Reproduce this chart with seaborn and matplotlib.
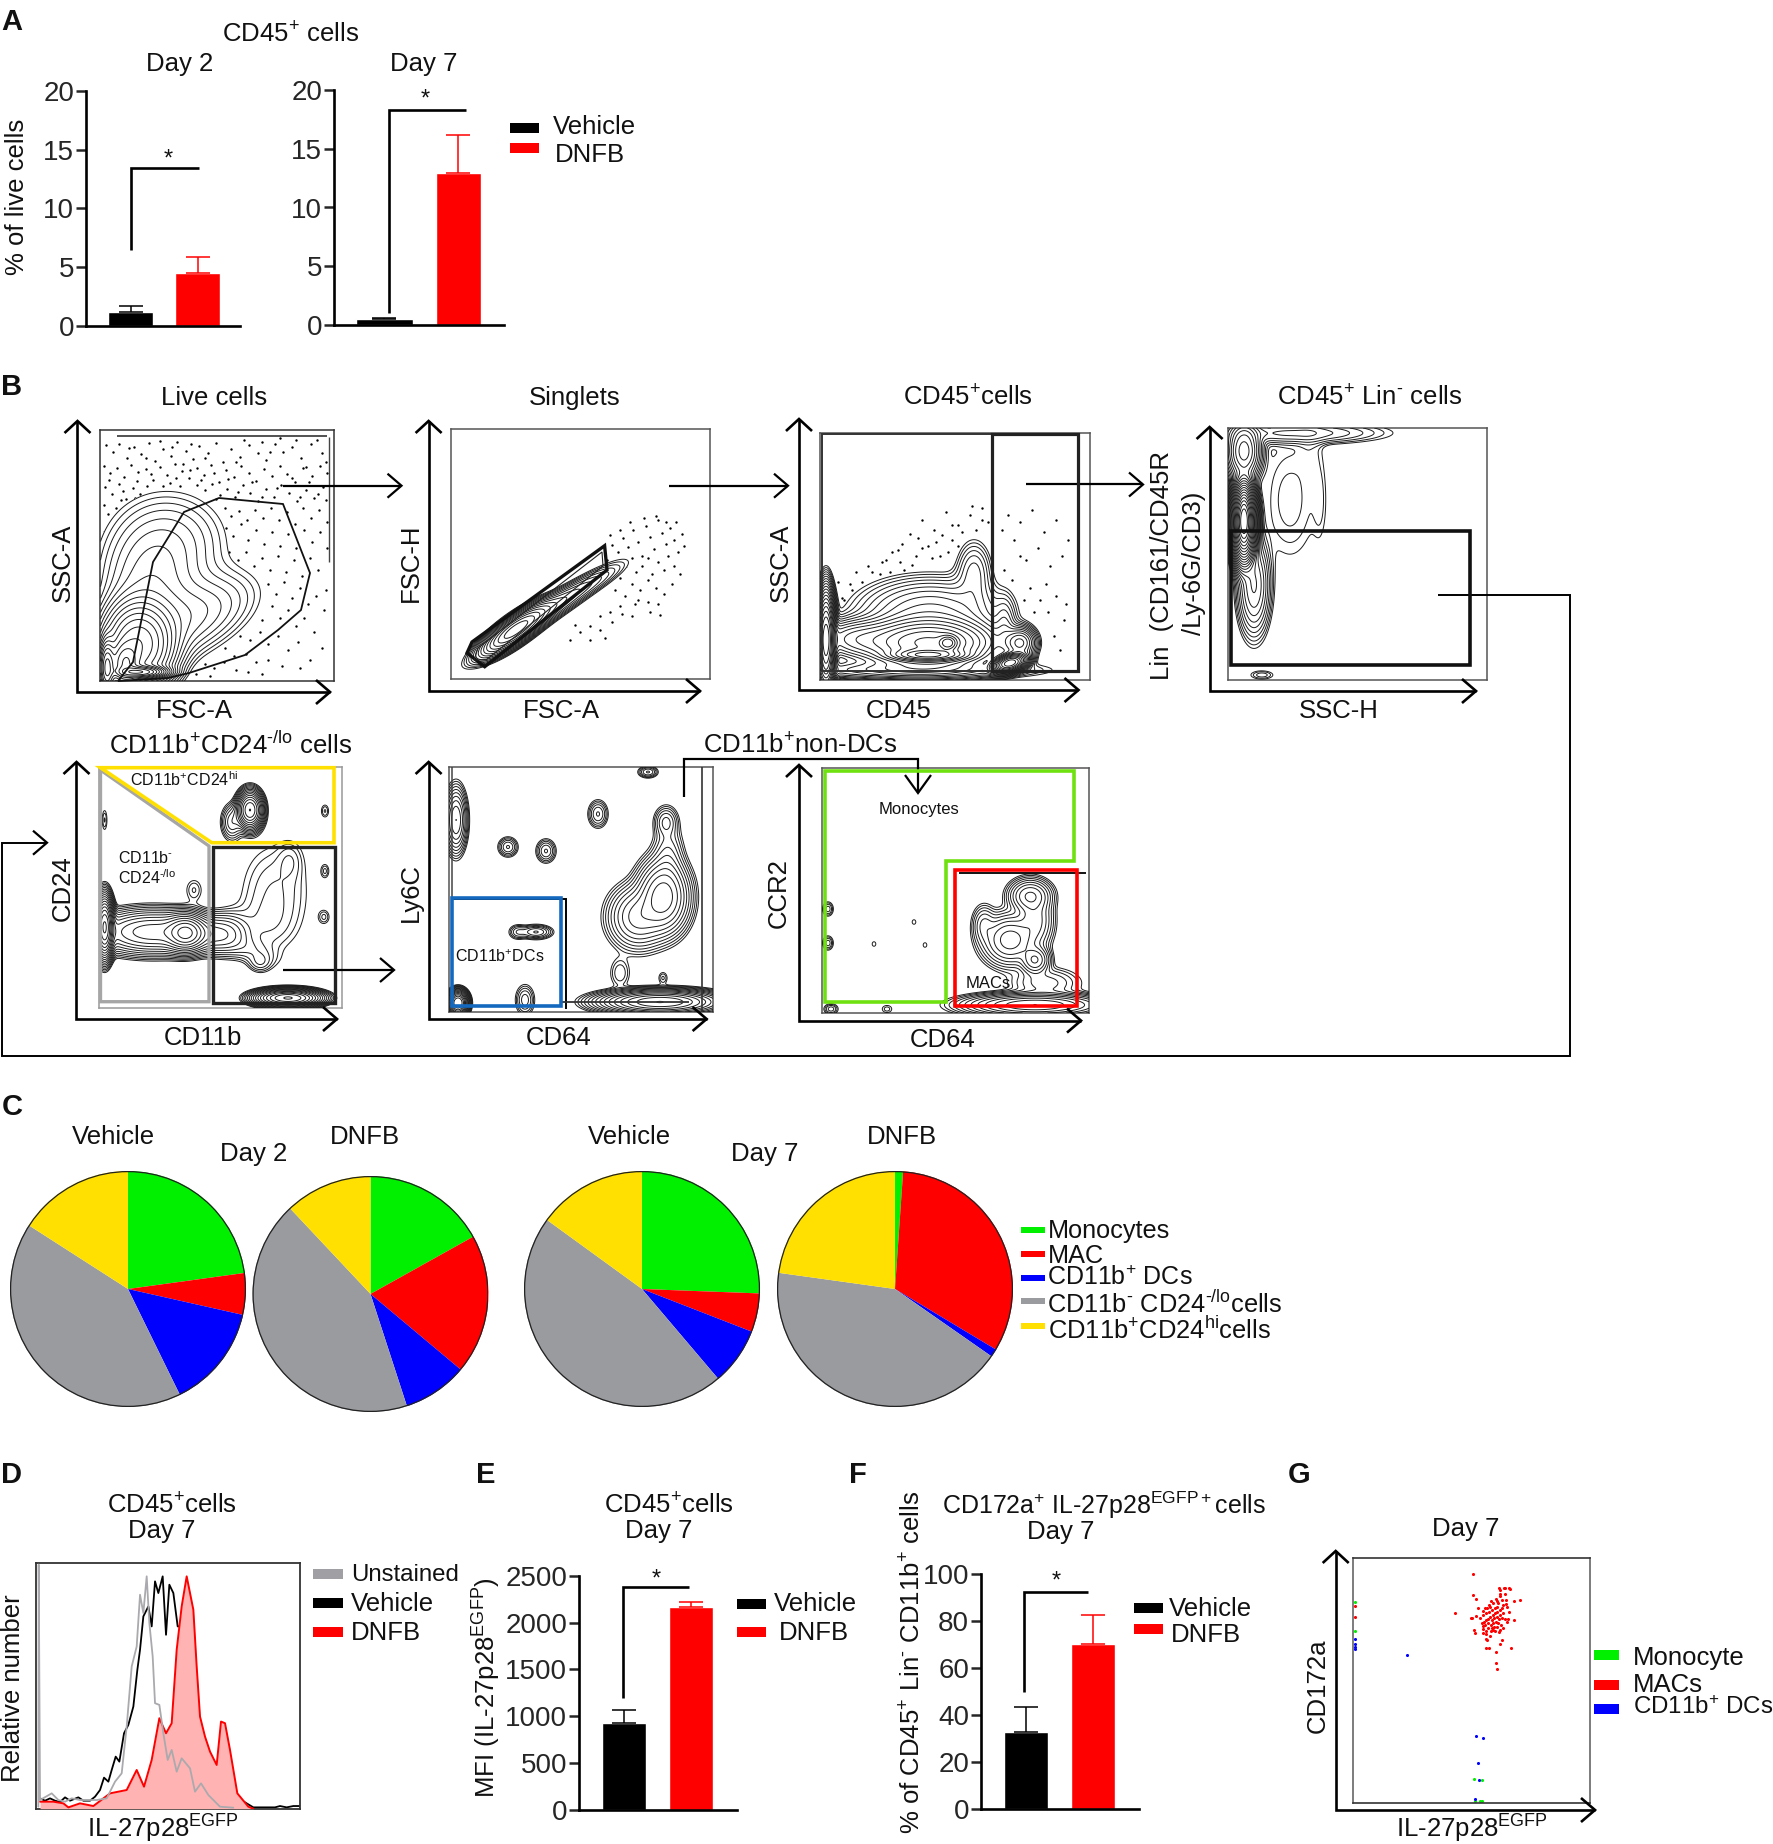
import numpy as np
import pandas as pd
import matplotlib
matplotlib.use("Agg")
import matplotlib.pyplot as plt
from matplotlib.patches import Rectangle, Circle, Polygon
import seaborn as sns

sns.set_style("white")
plt.rcParams['font.family'] = ['Liberation Sans', 'DejaVu Sans']
plt.rcParams['mathtext.fontset'] = 'custom'
plt.rcParams['mathtext.rm'] = 'Liberation Sans'
plt.rcParams['mathtext.it'] = 'Liberation Sans:italic'
plt.rcParams['mathtext.bf'] = 'Liberation Sans:bold'
plt.rcParams['mathtext.default'] = 'rm'

W, H = 1774, 1844
RED, GREEN, BLUE, GRAY, YEL = '#FF0000', '#00F000', '#0000FF', '#9A9B9E', '#FFE000'

# ---------- data ----------
groups = ['Vehicle', 'DNFB']
a_day2 = [1.2, 4.5];   a_day2_top = [1.7, 5.9]
a_day7 = [0.5, 12.9];  a_day7_top = [0.6, 16.2]
e_mfi = [925, 2165];   e_mfi_top = [1070, 2220]
f_pct = [33, 70.3];    f_pct_top = [43.3, 82.7]

pie_labels = ['Monocytes', 'MAC', 'CD11b+ DCs', 'CD11b- CD24-/lo', 'CD11b+CD24hi']
pie_v_d2 = [22.8, 5.7, 14.2, 41.3, 15.9]
pie_d_d2 = [16.9, 19.2, 8.9, 43.0, 12.0]
pie_v_d7 = [25.6, 5.3, 7.9, 46.2, 15.0]
pie_d_d7 = [1.1, 32.5, 1.1, 42.5, 22.8]

hist_black_x = [120,135,150,165,180,195,210,235,250,270,285,300,312,325,335,347,358,372,385,400,412,420,430,445,455,465,475,488,498,508,520,533,542,560,600,640,700,760,825,840,860,880,900]
hist_black_h = [31,24,31,24,20,34,24,34,24,24,36,56,93,81,116,156,141,226,251,306,416,476,576,606,546,681,646,696,521,671,646,546,546,376,200,120,40,4,4,8,4,8,8]
hist_gray_x = [115,116,120,155,175,195,215,240,290,320,345,365,380,395,410,420,430,440,448,458,465,478,490,503,515,530,545,570,585,603,625,660,700]
hist_gray_h = [6,731,26,46,26,21,31,26,26,31,81,106,246,426,486,641,586,696,556,456,316,311,226,146,176,111,151,121,51,76,41,6,3]
hist_red_x = [120,160,190,205,240,280,330,380,410,432,455,478,498,515,530,545,560,570,580,590,600,615,630,650,663,675,690,712,745,760]
hist_red_h = [21,21,16,4,16,8,46,56,116,66,146,271,226,256,476,606,696,646,596,426,276,216,171,131,261,256,176,46,6,0]

g_mac_x = [158,238,241,252,256,266,269,158,169,241,239,254,282,301,174,188,196,200,208,214,228,232,246,257,210,220,235,250,258,262,105,152,157,169,180,190,198,207,215,225,232,240,246,268,185,192,198,205,210,218,225,232,240,248,215,222,230,238,245,255,265,282,260,188,195,205,212,220,228,235,243,248,240,232,222,215,205,163,188,190,197,212,218,225,238,166,197,210,200,197,246,241,197,207,273,227,227,232,-195,-195]
g_mac_y = [43,84,90,83,83,85,87,106,117,103,107,102,123,120,143,152,143,144,135,123,118,123,120,120,140,130,130,135,132,140,160,175,175,168,175,165,158,155,150,145,140,150,145,157,190,185,180,178,172,165,160,155,165,160,180,175,170,178,175,178,177,181,186,198,195,190,195,188,185,190,195,203,210,200,200,205,203,209,208,218,212,212,210,213,215,220,222,227,240,236,240,251,265,265,265,277,308,328,138,172]
g_mono_x = [-195,-195,163,185,180,187,165]
g_mono_y = [126,212,657,660,722,722,722]
g_dc_x = [-195,-195,-195,-195,-38,169,188,174,177,166]
g_dc_y = [237,251,260,266,285,528,534,609,660,718]

# sparse events outside the contours, read by eye (figure pixels)
live_events = [(106,445),(113,452),(119,444),(127,458),(134,447),(141,454),(149,443),(155,461),(163,449),(171,456),(177,442),(186,451),(193,459),(199,446),(208,453),(216,443),(223,462),(231,449),(240,457),(249,445),(258,453),(266,460),(275,444),(283,452),(292,447),(301,458),(311,444),(322,453),
(104,466),(110,473),(117,468),(124,477),(131,465),(138,472),(146,469),(153,480),(160,467),(167,475),(175,464),(182,471),(189,478),(197,468),(204,475),(211,465),(219,482),(226,470),(234,477),(241,466),(249,473),(256,481),(264,469),(272,476),(280,466),(287,474),(295,482),(303,468),(312,476),(320,466),(327,473),
(105,487),(112,494),(119,484),(126,499),(133,488),(140,494),(147,486),(155,497),(163,486),(170,483),(176,478),(197,485),(205,490),(212,484),(220,495),(227,489),(235,497),(243,485),(250,493),(258,501),(266,489),(274,497),(281,485),(289,493),(297,501),(306,490),(314,498),(323,487),
(104,505),(108,514),(112,522),(116,508),(121,500),(128,504),(135,498),(225,508),(231,516),(239,511),(247,520),(255,510),(263,518),(271,508),(279,520),(287,512),(295,524),(303,508),(311,518),(319,510),(327,522),
(104,532),(107,545),(226,528),(233,536),(241,524),(248,540),(256,530),(264,544),(272,532),(280,546),(288,534),(296,548),(304,530),(312,542),(320,532),(327,548),
(229,552),(238,560),(246,552),(254,566),(262,558),(270,570),(278,556),(286,572),(294,560),(302,576),(310,558),(318,570),(326,590),
(250,578),(258,586),(268,584),(276,594),(284,582),(292,598),(300,588),(308,604),(316,596),(324,610),
(262,620),(272,606),(280,618),(288,610),(296,626),(304,618),(314,632),(322,648),
(240,636),(250,640),(260,632),(268,644),(278,636),(288,650),(298,642),(310,660),(225,648),(234,656),(246,654),(256,662),(268,660),(282,666),
(205,664),(214,668),(224,662),(236,670),(248,672),(196,674),(210,676),(262,674),(300,668),
(129,448),(146,458),(160,441),(172,447),(183,464),(191,444),(205,458),(214,473),(236,462),(244,440),(262,442),(270,452),(280,438),(296,440),(306,467),(317,440),(326,462),
(109,480),(123,491),(137,481),(151,474),(180,486),(190,470),(201,480),(216,499),(228,479),(238,492),(252,482),(262,497),(277,488),(292,478),(300,497),(309,482),(318,494),(326,500)]
sing_events = [(607,560),(612,545),(618,552),(623,538),(628,547),(633,530),(638,542),(642,556),(646,526),(650,537),(654,549),(658,520),(662,533),(666,544),(670,528),(674,540),(678,552),(682,534),(684,546),
(608,572),(614,564),(620,578),(626,566),(632,558),(636,572),(642,566),(648,558),(652,574),(658,562),(664,570),(668,556),(674,566),(680,574),(632,584),(640,590),(648,580),(656,588),(664,594),(672,584),
(610,535),(620,530),(630,522),(644,518),(656,516),(666,522),(676,522),(638,600),(648,602),(658,604),
(615,590),(625,596),(635,604),(620,606),(610,612),(600,616),(590,626),(600,630),(612,622),(622,614),(580,632),(590,640),(570,640),(605,638),(632,616),(650,612),(660,615),(575,625)]
cd45_events = [(832,592),(838,582),(844,600),(850,584),(856,572),(862,594),(868,566),(874,584),(880,574),(886,560),(892,578),(898,550),(904,570),(910,534),(916,556),(922,520),(928,546),(934,530),(940,556),(946,512),(952,540),(958,525),(964,548),(970,515),(976,530),(982,508),(988,522),
(842,598),(852,590),(862,582),(872,572),(882,562),(892,552),(902,544),(912,565),(922,548),(932,558),(942,535),(952,525),(962,532),(972,506),(982,520),(866,600),(878,596),(890,572),(900,562),(918,538),(936,542),(948,552),(958,546),
(1002,530),(1008,515),(1014,540),(1020,522),(1026,560),(1032,510),(1038,548),(1044,532),(1050,566),(1056,520),(1062,556),(1068,540),(1004,570),(1012,580),(1020,556),(1030,588),(1040,600),(1048,612),(1056,596),(1064,620),(1046,584),(1054,636),(1060,650),(1066,604),(1034,612),(1012,600),(1024,600)]

# Gaussian-mixture outline of each gated population: cx, cy, sx, sy, angle, amp
live_blobs = [(138,645,18,22,0,1),(190,618,40,20,-25,.07),(170,540,35,30,0,.04),(150,590,28,35,0,.08),(125,665,8,12,0,1.5),
              (107,668,4,14,0,2),(140,672,12,3,0,3)]
sing_blobs = [(515,630,20,6,-36,1.5),(545,612,40,6,-33,.25),(600,580,22,5,-30,.03)]
cd45_blobs = [(826,640,4,22,0,3),(928,643,32,12,0,1),(930,612,38,18,0,.12),(856,639,22,10,0,.2),(928,655,18,3,0,1.5),
              (948,643,5,4,0,1.5),(1010,663,8,4,-15,3),(1020,643,8,8,0,.3),(907,670,65,5,0,.12),(974,572,10,18,0,.05),(1005,630,6,18,0,.05)]
lin_blobs = [(1244,523,5,16,0,30),(1244,520,3,12,0,30),(1244,451,8,14,0,1),(1254,585,8,25,0,.3),(1290,500,18,40,0,.03),(1290,433,50,6,0,.1),
             (1262,675,8,3,0,.03),(1320,500,5,30,0,.015),(1310,445,8,20,0,.015)]
cd11b_blobs = [(153,932,30,11,0,1),(186,933,10,9,0,2),(104.6,927,4,14,0,6),(250,810,6,9,0,3),(232,822,6,10,0,.2),(275,890,22,30,0,.08),
               (265,927,20,18,0,.05),(230,933,12,12,0,.15),(215,935,14,10,0,.3),(250,950,18,8,20,.08),(290,860,8,12,0,.05),(260,963,7,6,0,.08),(324,917,4,5,0,.06),(288,998,15,4,0,6),
               (325,811,3,5,0,.06),(325,871,3,5,0,.06),(104.6,820,2,8,0,.06),(194,890,6,8,0,.06)]
ly6c_blobs = [(663,897,12,17,0,1),(638,917,14,15,0,.4),(668,860,8,20,0,.1),(666,822,6,8,0,.1),(620,973,6,9,0,.04),(663,978,3,4,0,.03),
              (660,1002,25,5,0,4),(536,932,8,3.5,0,.15),(518,932,5,4,0,.06),(508,847,5,5,0,.1),(546,851,5,6,0,.1),(598,814,5,7,0,.1),
              (648,772,5,3,0,.1),(456,820,5,15,0,.5),(525,1000,5,8,0,.08),(458,1003,4,5,0,10)]
ccr2_blobs = [(1030,896,10,8,0,.4),(1010,940,13,12,0,.5),(1035,960,7,7,0,.4),(984,925,6,10,0,.1),(1045,983,18,8,0,.08),(1035,920,9,14,0,.2),
              (1035,1005,30,5,0,1.5),(828,909,3,4,0,.05),(828,943,3,4,0,.05),(874,944,2,2.5,0,.015),(914,922,2,2.5,0,.015),(925,945,2,2.5,0,.015),
              (887,1009,4,3,0,.02),(831,1009,4,3,0,.05)]

# ---------- helpers ----------
fig = plt.figure(figsize=(W/100, H/100), dpi=100, facecolor='white')

def ax_px(x0, y0, x1, y1):
    return fig.add_axes([x0/W, 1-y1/H, (x1-x0)/W, (y1-y0)/H])

def bar_panel(box, vals, tops, ymax, ticks, centers, widths, tick_size=20):
    x0, y0, x1, y1 = box
    ax = ax_px(*box)
    ax.patch.set_alpha(0)
    df = pd.DataFrame({'group': groups, 'value': vals})
    sns.barplot(data=df, x='group', y='value', hue='group', palette=['black', RED], dodge=False,
                legend=False, ax=ax, saturation=1, width=0.66, errorbar=None)
    sp = centers[1]-centers[0]
    ax.set_xlim(-(centers[0]-x0)/sp, 1+(x1-centers[1])/sp)
    ax.set_ylim(0, ymax)
    for p, w in zip(ax.patches, widths):
        c = p.get_x()+p.get_width()/2
        p.set_width(w/sp); p.set_x(c-w/sp/2)
    for i, c in enumerate(['black', RED]):
        ax.errorbar([i], [vals[i]], yerr=[[0], [tops[i]-vals[i]]], color=c, capsize=8.5, capthick=1.1, elinewidth=1.1, zorder=1)
    ax.set_xlabel(''); ax.set_ylabel('')
    ax.set_xticks([]); ax.set_yticks(ticks)
    ax.tick_params(axis='y', length=7, width=1.8, labelsize=tick_size, pad=1.5, left=True)
    sns.despine(ax=ax)
    for s in ['left', 'bottom']:
        ax.spines[s].set_linewidth(1.9); ax.spines[s].set_color('black')
    return ax

def facs(box, blobs, lo, hi=None, n=14, dots=None, lw=0.7, frame='#555555'):
    x0, y0, x1, y1 = box
    ax = ax_px(*box)
    ax.set_xlim(x0, x1); ax.set_ylim(y1, y0)
    ax.set_xticks([]); ax.set_yticks([])
    for s in ax.spines.values():
        s.set_color(frame); s.set_linewidth(1.1); s.set_visible(True)
    X, Y = np.meshgrid(np.linspace(x0, x1, 520), np.linspace(y0, y1, 520))
    Z = np.zeros_like(X)
    for cx, cy, sx, sy, ang, amp in blobs:
        t = np.deg2rad(ang)
        u = (X-cx)*np.cos(t)+(Y-cy)*np.sin(t)
        v = -(X-cx)*np.sin(t)+(Y-cy)*np.cos(t)
        Z += amp*np.exp(-0.5*((u/sx)**2+(v/sy)**2))
    if dots is not None:
        sns.scatterplot(x=[d[0] for d in dots], y=[d[1] for d in dots], s=3, color='black', linewidth=0, ax=ax, zorder=1, legend=False)
        ax.set_xlim(x0, x1); ax.set_ylim(y1, y0)
    hi = hi or Z.max()
    levels = np.geomspace(lo, hi, n)
    ax.contourf(X, Y, Z, levels=[lo, Z.max()*2], colors='white', zorder=2)
    ax.contour(X, Y, Z, levels=levels, colors='#1c1c1c', linewidths=lw, zorder=3)
    ax.set_xlabel(''); ax.set_ylabel('')
    return ax

def pie(cx, cy, r, vals):
    ax = ax_px(cx-r, cy-r, cx+r, cy+r)
    ax.pie(vals, colors=[GREEN, RED, BLUE, GRAY, YEL], startangle=90, counterclock=False, radius=1,
           wedgeprops=dict(linewidth=0))
    ax.set_xlim(-1, 1); ax.set_ylim(-1, 1)
    ax.add_patch(Circle((0, 0), 0.995, fill=False, ec='#222222', lw=0.9))
    ax.set_aspect('equal'); ax.axis('off')
    return ax

# ---------- A ----------
bar_panel((86, 90.7, 240, 326), a_day2, a_day2_top, 20, [0,5,10,15,20], [130.7,197.7], [45,45])
bar_panel((334, 90, 504, 325), a_day7, a_day7_top, 20, [0,5,10,15,20], [384,458], [57,45])

# ---------- B ----------
facs((100.5,430,334,681), live_blobs, 0.012, hi=3.5, n=20, dots=live_events, frame='#333333')
facs((451.5,429,710,679), sing_blobs, 0.02, hi=1.8, n=16, dots=sing_events)
facs((820,433,1090,680), cd45_blobs, 0.01, hi=3.2, n=20, dots=cd45_events)
facs((1228,428,1487,680), lin_blobs, 0.012, hi=40, n=24)
facs((99.5,767,342,1008), cd11b_blobs, 0.03, hi=8, n=18, frame='#999999')
facs((449,767,713,1012), ly6c_blobs, 0.012, hi=6, n=16)
facs((822,767.5,1089,1013), ccr2_blobs, 0.01, hi=1.5, n=12)

# ---------- C ----------
pie(128, 1289, 118, pie_v_d2)
pie(370.5, 1294, 118, pie_d_d2)
pie(642, 1289, 118, pie_v_d7)
pie(895, 1289, 118, pie_d_d7)

# ---------- D ----------
axd = ax_px(35.7, 1563, 300, 1808.7)
sns.lineplot(x=hist_black_x, y=hist_black_h, color='black', lw=1.3, sort=False, errorbar=None, ax=axd, zorder=2)
axd.fill_between(hist_red_x, hist_red_h, color='#FFB3B3', lw=0, zorder=3)
sns.lineplot(x=hist_red_x, y=hist_red_h, color=RED, lw=1.4, sort=False, errorbar=None, ax=axd, zorder=4)
sns.lineplot(x=hist_gray_x, y=hist_gray_h, color='#AAAAAE', lw=1.3, sort=False, errorbar=None, ax=axd, zorder=5)
axd.set_xlim(107, 900); axd.set_ylim(0, 736)
axd.set_xticks([]); axd.set_yticks([]); axd.set_xlabel(''); axd.set_ylabel('')
for s in axd.spines.values():
    s.set_color('#333333'); s.set_linewidth(1.3); s.set_visible(True)

# ---------- E, F ----------
bar_panel((579, 1575.7, 737, 1810), e_mfi, e_mfi_top, 2500, [0,500,1000,1500,2000,2500], [623.8,690.8], [44,44])
bar_panel((981, 1574, 1139, 1809.3), f_pct, f_pct_top, 100, [0,20,40,60,80,100], [1025.7,1093], [44,44])

# ---------- G ----------
axg = ax_px(1352.7, 1557.7, 1590, 1802.7)
sns.scatterplot(x=g_mac_x, y=g_mac_y, color=RED, s=5, linewidth=0, ax=axg, legend=False)
sns.scatterplot(x=g_mono_x, y=g_mono_y, color=GREEN, s=5, linewidth=0, ax=axg, legend=False)
sns.scatterplot(x=g_dc_x, y=g_dc_y, color=BLUE, s=5, linewidth=0, ax=axg, legend=False)
axg.set_xlim(-202, 510); axg.set_ylim(728, -7)
axg.set_xticks([]); axg.set_yticks([]); axg.set_xlabel(''); axg.set_ylabel('')
for s in axg.spines.values():
    s.set_color('#666666'); s.set_linewidth(1.2); s.set_visible(True)
axg.spines['top'].set_color('#333333')
axg.spines['bottom'].set_color('#333333')

# ---------- overlay: annotation layer ----------
ov = fig.add_axes([0, 0, 1, 1], zorder=20)
ov.set_xlim(0, W); ov.set_ylim(H, 0); ov.axis('off'); ov.patch.set_alpha(0)

def T(x, y, s, size=18.5, rot=0, ha='center', weight='normal'):
    if rot:
        x += 3
    else:
        y += 2.5
    ov.text(x, y, s, fontsize=size, rotation=rot, ha=ha, va='center', weight=weight, color='#111111')

def L(xs, ys, lw=1.6, c='black', z=5):
    ov.plot(xs, ys, color=c, lw=lw, solid_capstyle='butt', solid_joinstyle='miter', zorder=z)

def head_r(x, y, dx=14, dy=12, lw=1.6):
    L([x-dx, x, x-dx], [y-dy, y, y+dy], lw)

def head_u(x, y, dx=13, dy=12, lw=1.6):
    L([x-dx, x, x+dx], [y+dy, y, y+dy], lw)

def head_d(x, y, dx=13, dy=18, lw=1.6):
    L([x-dx, x, x+dx], [y-dy, y, y-dy], lw)

def flow_axes(x, ybot, ytop, xright, lw=1.9):
    L([x, x, xright], [ytop, ybot, ybot], lw)
    head_u(x, ytop, lw=lw); head_r(xright, ybot, lw=lw)

def harrow(x0, x1, y):
    L([x0, x1], [y, y], 1.6); head_r(x1, y)

def poly(pts, c, lw):
    ov.add_patch(Polygon(pts, closed=True, fill=False, ec=c, lw=lw, joinstyle='miter', zorder=6))

def bracket(x, y0, y1, x1, sx, sy):
    L([x, x, x1], [y0, y1, y1], 1.9)
    T(sx, sy, '*', size=17)

def swatch(x0, x1, yc, c, h=10):
    ov.add_patch(Rectangle((x0, yc-h/2), x1-x0, h, fc=c, ec='none'))

# panel letters
for s, x, y in [('A',12,20),('B',12,384),('C',12,1104),('D',12,1472),('E',486,1472),('F',858,1472),('G',1299,1472)]:
    T(x, y, s, size=21, weight='bold')

# A
T(291, 32, r'CD45$^{+}$ cells'); T(180, 61, 'Day 2'); T(424, 61, 'Day 7')
T(14, 197, '% of live cells', rot=90)
bracket(131, 250, 168, 199, 168, 157)
bracket(389, 313, 110, 466, 425, 97)
swatch(510, 539, 128, 'black'); swatch(510, 539, 148.5, RED)
T(553, 124, 'Vehicle', ha='left'); T(555, 153, 'DNFB', ha='left')

# B titles and labels
T(214, 395, 'Live cells'); T(575, 395, 'Singlets')
T(968, 395, r'CD45$^{+}$cells'); T(1370, 395, r'CD45$^{+}$ Lin$^{\text{-}}$ cells')
T(60, 563, 'SSC-A', rot=90); T(194, 708, 'FSC-A')
T(408, 563, 'FSC-H', rot=90); T(561, 708, 'FSC-A')
T(778, 563, 'SSC-A', rot=90); T(899, 708, 'CD45')
T(1158.6, 565, 'Lin  (CD161/CD45R', rot=90); T(1190.7, 563, '/Ly-6G/CD3)', rot=90); T(1339, 708, 'SSC-H')
T(230.6, 743, r'CD11b$^{+}$CD24$^{\text{-/lo}}$ cells')
T(60, 888, 'CD24', rot=90); T(203, 1035, 'CD11b')
T(408, 892, 'Ly6C', rot=90); T(559, 1035, 'CD64')
T(775.5, 893, 'CCR2', rot=90); T(943, 1037, 'CD64')
T(800, 743, r'CD11b$^{+}$non-DCs')
T(184, 777, r'CD11b$^{+}$CD24$^{hi}$', size=11.5)
T(118, 855, r'CD11b$^{\text{-}}$', size=11.5, ha='left'); T(118, 875, r'CD24$^{\text{-/lo}}$', size=11.5, ha='left')
T(500, 954, r'CD11b$^{+}$DCs', size=11.5)
T(919, 807, 'Monocytes', size=12); T(988, 981, 'MACs', size=12)

# B flow-cytometry axes
flow_axes(77.5, 692, 421, 330)
flow_axes(428.6, 691, 421, 700)
flow_axes(799, 690, 419, 1078.5)
flow_axes(1209.6, 691, 427, 1476)
flow_axes(76.5, 1019, 762, 337)
flow_axes(428.6, 1019, 762, 706.6)
flow_axes(799, 1020.6, 765, 1081)

# B gates
poly([(133,662),(153,562),(184,512),(219,498),(283,504),(310,573),(301,610),(278,630),(245,655),(189,673),(168,678),(118,681)], '#111111', 1.3)
L([117,327], [436,436], 1.2, '#333333'); L([329,329], [437,562], 1.0, '#444444')
poly([(467,653),(472,642),(604.6,545.7),(607,570),(484.7,666.7)], '#111111', 2.4)
poly([(474,660),(478,648),(602,552),(603,566),(486,660)], '#222222', 0.8)
poly([(822,434.5),(1078,434.5),(1078,671),(822,671)], '#333333', 1.4)
poly([(992,434.5),(1078,434.5),(1078,671),(992,671)], '#222222', 2.3)
poly([(1231.5,531),(1470,531),(1470,665),(1231.5,665)], '#111111', 2.6)
poly([(100.5,770),(209,846),(209,1001.7),(100.5,1001.7)], '#A6A6A6', 2.4)
poly([(100.5,767.7),(334,767.7),(334,842.7),(211.7,842.7)], YEL, 2.6)
poly([(213,847),(334.7,847),(334.7,1002.7),(213,1002.7)], '#222222', 2.4)
L([452.5,566,566], [899,899,1009], 1.4); L([561,689], [1001.7,1001.7], 1.3, '#333333')
L([702.5,702.5], [767,1012], 1.2, '#333333'); L([452.5,452.5], [767,1010], 1.1, '#444444')
poly([(452.5,898),(561,898),(561,1005.7),(452.5,1005.7)], '#1469BE', 2.6)
poly([(825,771),(1074,771),(1074,861),(946,861),(946,1002),(825,1002)], '#6FE010', 2.6)
L([958.6,1086], [873,873], 1.3)
poly([(955,869.7),(1077.4,869.7),(1077.4,1006),(955,1006)], RED, 2.6)

# B connecting arrows
harrow(283, 401.5, 485.7)
harrow(669, 788, 485.7)
harrow(1026, 1143, 484.5)
harrow(283, 394, 970)
L([683.7,683.7,918,918], [797,758.6,758.6,793], 1.6); head_d(918, 793)
L([1438,1570,1570,2.5,2.5,47], [594.7,594.7,1056,1056,842.7,842.7], 1.4); head_r(47, 842.7)

# C
T(113, 1134, 'Vehicle'); T(254, 1151, 'Day 2'); T(365, 1134, 'DNFB')
T(629, 1134, 'Vehicle'); T(765, 1151, 'Day 7'); T(902, 1134, 'DNFB')
for yc, c in zip([1230,1254,1278,1301,1326], [GREEN, RED, BLUE, GRAY, YEL]):
    swatch(1021, 1045, yc, c, h=6)
T(1048, 1228, 'Monocytes', ha='left', size=18.2); T(1048, 1253, 'MAC', ha='left', size=18.2)
T(1047, 1275, r'CD11b$^{+}$ DCs', ha='left', size=18)
T(1047, 1302, r'CD11b$^{\text{-}}$ CD24$^{\text{-/lo}}$cells', ha='left', size=18.3)
T(1048, 1328, r'CD11b$^{+}$CD24$^{hi}$cells', ha='left', size=18.4)

# D
T(172, 1503, r'CD45$^{+}$cells'); T(162, 1528, 'Day 7')
T(10, 1688, 'Relative number', rot=90); T(163, 1826, r'IL-27p28$^{EGFP}$')
for yc, c in zip([1574,1603,1632], ['#A0A0A4','black',RED]):
    swatch(313, 343, yc, c)
T(351, 1572, 'Unstained', ha='left', size=17.3); T(351, 1601, 'Vehicle', ha='left'); T(351, 1630, 'DNFB', ha='left')

# E
T(669, 1503, r'CD45$^{+}$cells'); T(659, 1528, 'Day 7')
T(484, 1688, r'MFI (IL-27p28$^{EGFP}$)', rot=90)
bracket(623.3, 1697.7, 1587, 689, 656.7, 1577)
swatch(737, 766, 1604, 'black'); swatch(737, 766, 1632, RED)
T(774, 1601, 'Vehicle', ha='left'); T(779, 1630, 'DNFB', ha='left')

# F
T(1104, 1503, r'CD172a$^{+}$ IL-27p28$^{EGFP+}$cells', size=18); T(1061, 1529, 'Day 7')
T(910, 1662, r'% of CD45$^{+}$ Lin$^{\text{-}}$ CD11b$^{+}$ cells', rot=90)
bracket(1024.3, 1691.7, 1591.7, 1088, 1056.7, 1579)
swatch(1134, 1162.7, 1608, 'black'); swatch(1134, 1162.7, 1629, RED)
T(1169, 1606, 'Vehicle', ha='left'); T(1171, 1632, 'DNFB', ha='left')

# G
T(1465.7, 1526, 'Day 7')
flow_axes(1335.7, 1810, 1551, 1595)
T(1315, 1686, 'CD172a', rot=90); T(1472, 1826, r'IL-27p28$^{EGFP}$')
for yc, c in zip([1655,1685,1709], [GREEN, RED, BLUE]):
    swatch(1594, 1619, yc, c)
T(1633, 1655, 'Monocyte', ha='left'); T(1633, 1682, 'MACs', ha='left')
T(1633, 1705, r'CD11b$^{+}$ DCs', ha='left', size=17.4)

fig.savefig('out.png', dpi=100, facecolor='white')
